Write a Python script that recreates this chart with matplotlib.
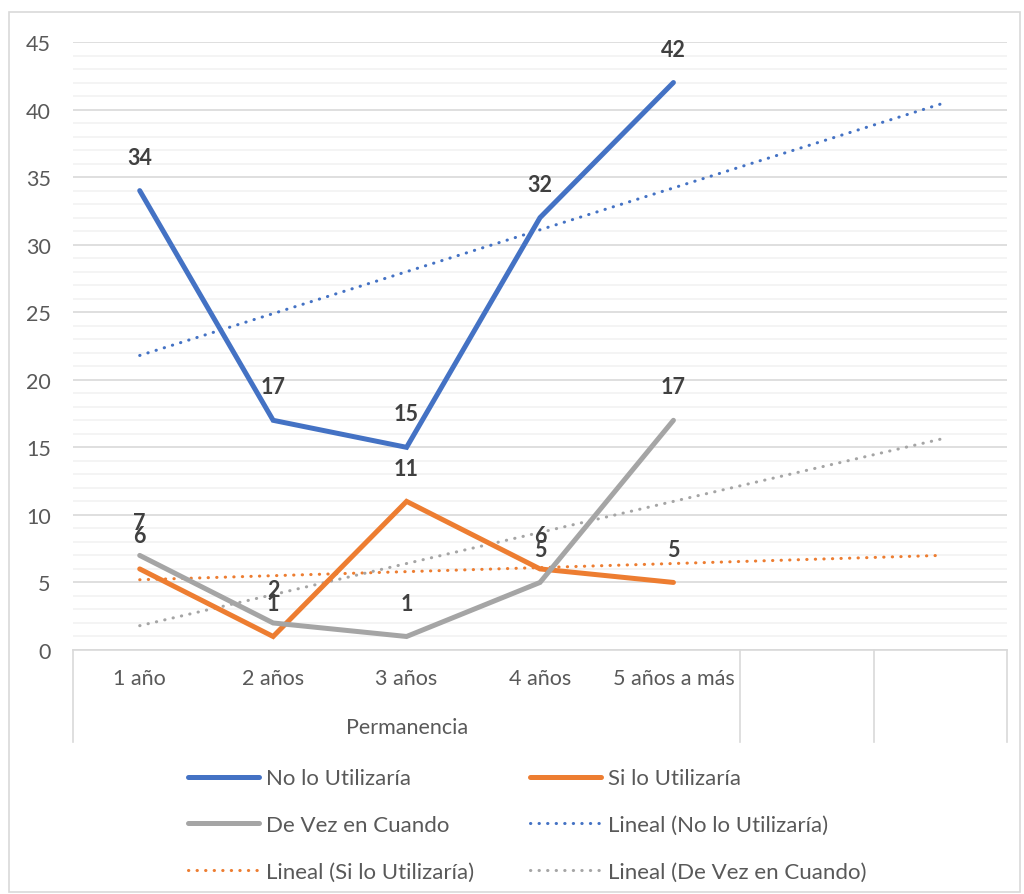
import numpy as np
import matplotlib.pyplot as plt
from matplotlib.patches import Rectangle

# Data
categorias = ["1 año", "2 años", "3 años", "4 años", "5 años a más", "", ""]
no_lo = [34, 17, 15, 32, 42]
si_lo = [6, 1, 11, 6, 5]
de_vez = [7, 2, 1, 5, 17]
eje_titulo = "Permanencia"

series = [
    ("No lo Utilizaría", no_lo, "#4472C4"),
    ("Si lo Utilizaría", si_lo, "#ED7D31"),
    ("De Vez en Cuando", de_vez, "#A5A5A5"),
]

plt.rcParams['font.family'] = ['Lato', 'DejaVu Sans']
texto = "#595959"
etiqueta = "#404040"

fig = plt.figure(figsize=(10.24, 8.95), dpi=100)
fig.patches.append(Rectangle((9 / 1024, 2 / 895), 1011 / 1024, 880 / 895,
                             transform=fig.transFigure, fill=False,
                             edgecolor="#D9D9D9", linewidth=1.2))

ax = fig.add_axes([73 / 1024, 1 - 651 / 895, 934 / 1024, 608 / 895])
n = len(categorias)
ax.set_xlim(0, n)
ax.set_ylim(0, 45)

# gridlines: major every 5, minor every 1
ax.set_yticks(np.arange(0, 46, 5))
ax.set_yticks(np.arange(0, 46, 1), minor=True)
ax.grid(axis="y", which="minor", color="#F2F2F2", linewidth=1.2)
ax.grid(axis="y", which="major", color="#D9D9D9", linewidth=1.2)
ax.set_axisbelow(True)
ax.tick_params(axis="y", which="both", length=0, pad=16, labelsize=15.5, labelcolor=texto)
ax.tick_params(axis="y", which="minor", labelleft=False)

for s in ["top", "right", "left"]:
    ax.spines[s].set_visible(False)
ax.spines["bottom"].set_color("#D9D9D9")
ax.spines["bottom"].set_linewidth(1.2)

xc = np.arange(n) + 0.5
ax.set_xticks(xc)
ax.set_xticklabels(categorias)
ax.tick_params(axis="x", length=0, pad=13, labelsize=15.5, labelcolor=texto)

# category axis divisions (multi-level)
for xf in [0, 5 / n, 6 / n, 1]:
    ax.plot([xf, xf], [0, -92 / 608], transform=ax.transAxes, color="#D9D9D9",
            linewidth=1.2, clip_on=False)
ax.text(2.5 / n, -77 / 608, eje_titulo, transform=ax.transAxes, ha="center",
        va="center", fontsize=15.5, color=texto)

handles_main = []
handles_trend = []
xs = np.arange(1, 6)
for nombre, vals, color in series:
    k = len(vals)
    h, = ax.plot(xc[:k], vals, color=color, linewidth=3.6, solid_capstyle="round",
                 solid_joinstyle="miter", label=nombre, zorder=3)
    handles_main.append(h)
    m, b = np.polyfit(xs, vals, 1)
    xt = np.array([1, n])
    t, = ax.plot(xt - 0.5, m * xt + b, color=color, linewidth=2.2,
                 linestyle=(0, (0.1, 2.7)), dash_capstyle="round",
                 label=f"Lineal ({nombre})", zorder=2)
    handles_trend.append(t)
    for x, v in zip(xc[:k], vals):
        ax.annotate(str(v), (x, v), xytext=(0, 24), textcoords="offset points",
                    ha="center", va="center", fontsize=15.5, fontweight="bold",
                    color=etiqueta, zorder=4)

orden = [handles_main[0], handles_main[2], handles_trend[1],
         handles_main[1], handles_trend[0], handles_trend[2]]
fig.legend(handles=orden, labels=[h.get_label() for h in orden], ncol=2,
           loc="center", bbox_to_anchor=(527 / 1024, 1 - 826 / 895), frameon=False,
           fontsize=16, labelcolor=texto, handlelength=3.2, handletextpad=0.32,
           columnspacing=2.5, labelspacing=1.2)

fig.savefig("out.png", dpi=100)
